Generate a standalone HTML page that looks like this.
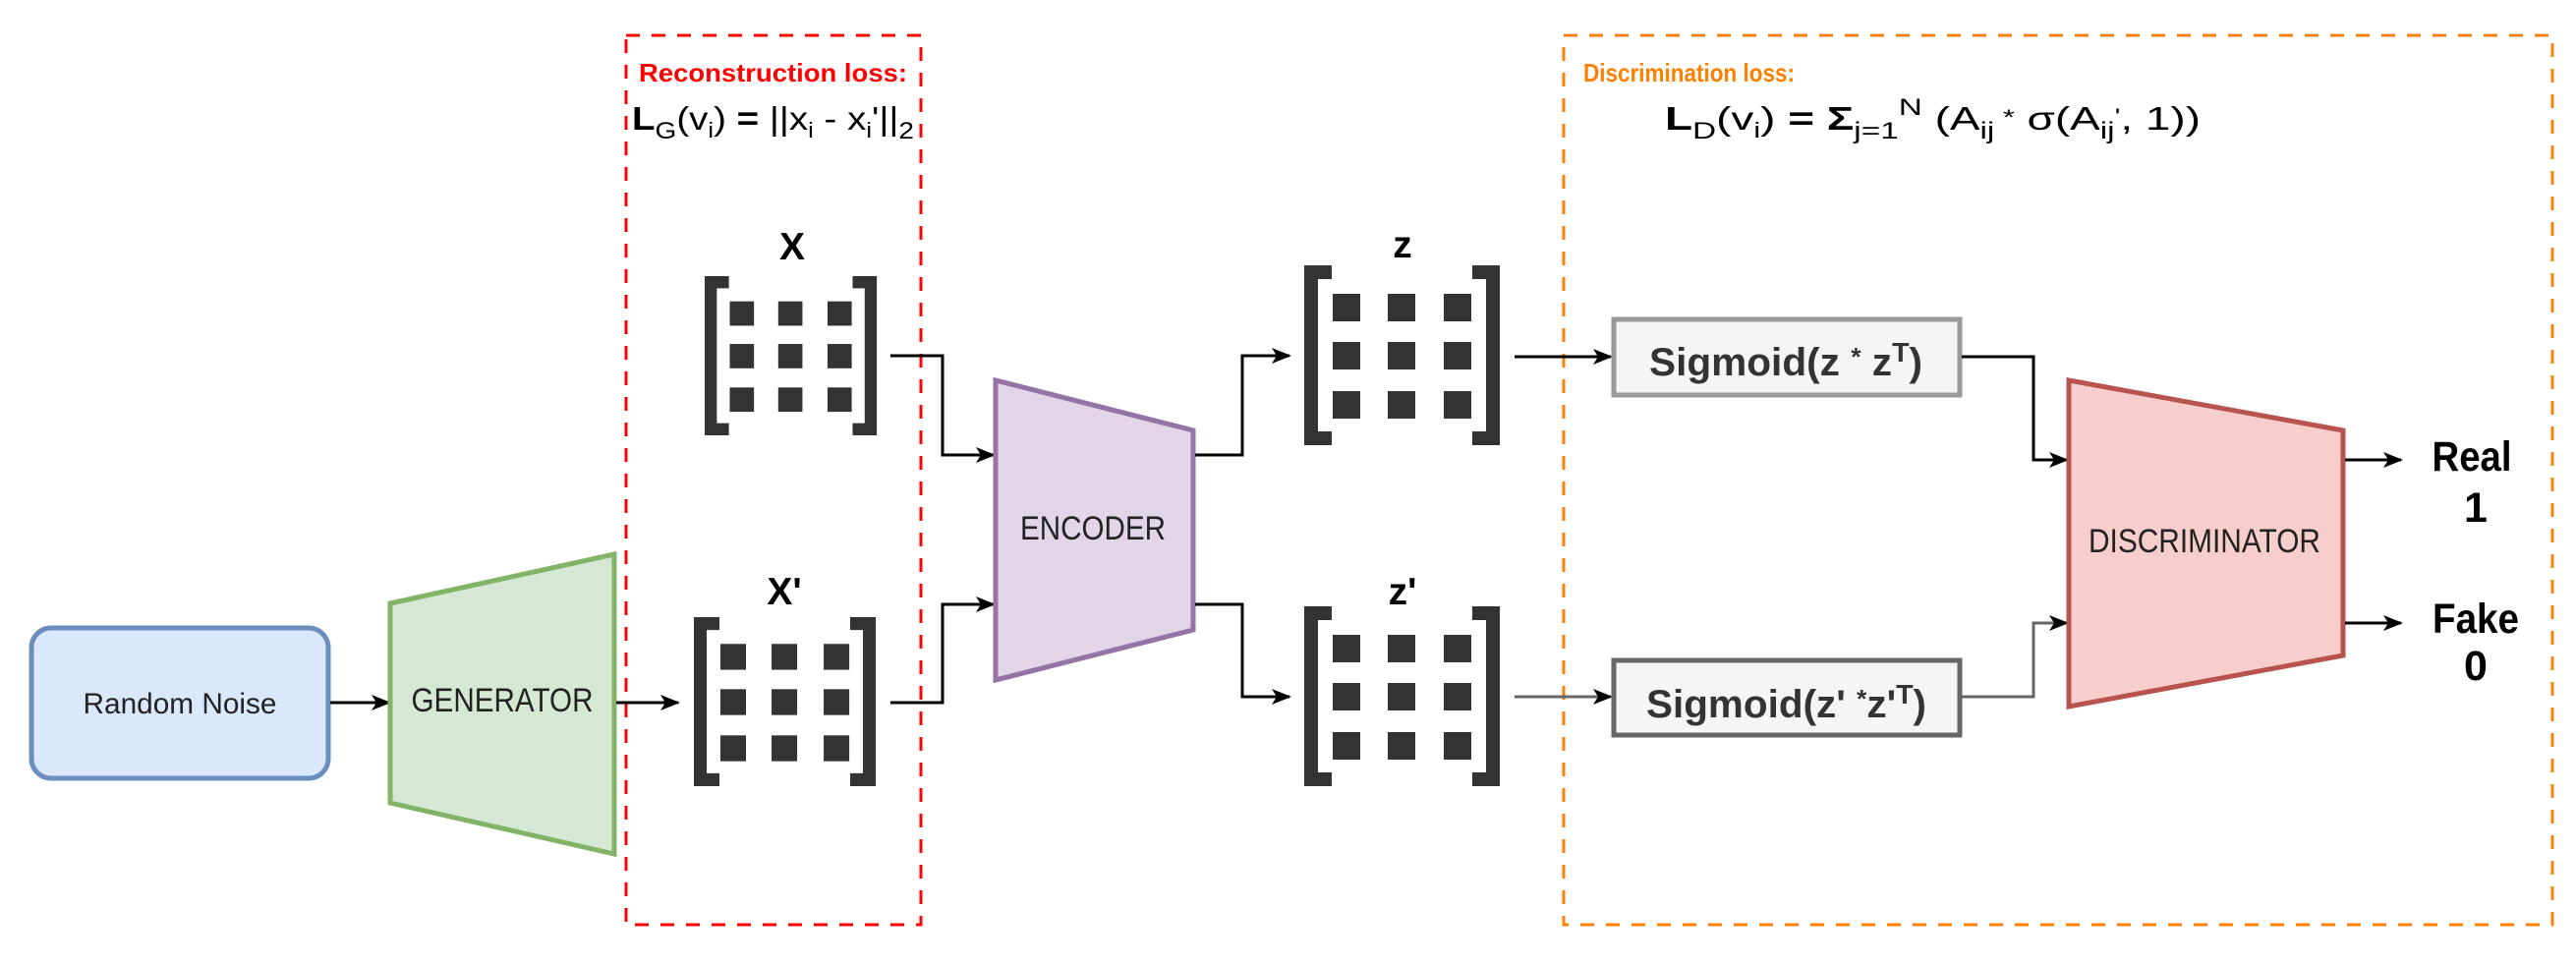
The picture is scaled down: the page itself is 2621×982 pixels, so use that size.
<!DOCTYPE html>
<html><head><meta charset="utf-8"><style>
html,body{margin:0;padding:0;background:#fff}
svg{display:block}
text{font-family:"Liberation Sans",Arial,sans-serif}
</style></head><body>
<svg width="2621" height="982" viewBox="0 0 2621 982" xmlns="http://www.w3.org/2000/svg">
<defs>
<marker id="ah" markerWidth="10" markerHeight="10" refX="9" refY="5" orient="auto" markerUnits="userSpaceOnUse" viewBox="0 0 10 10">
<path d="M0,0 L10,5 L0,10 L3,5 z" fill="#000"/></marker>
<marker id="ahb" markerWidth="20" markerHeight="20" refX="18" refY="10" orient="auto" markerUnits="userSpaceOnUse" viewBox="0 0 20 20">
<path d="M0,2 L20,10 L0,18 L5,10 z" fill="#000"/></marker>
<g id="mat">
<path d="M28,0 H0 V183 H28 V169 H14 V14 H28 Z" fill="#333"/>
<path d="M171,0 H199 V183 H171 V169 H185 V14 H171 Z" fill="#333"/>
<rect x="29" y="29" width="28" height="28" fill="#333"/><rect x="85" y="29" width="28" height="28" fill="#333"/><rect x="142" y="29" width="28" height="28" fill="#333"/>
<rect x="29" y="78" width="28" height="28" fill="#333"/><rect x="85" y="78" width="28" height="28" fill="#333"/><rect x="142" y="78" width="28" height="28" fill="#333"/>
<rect x="29" y="128" width="28" height="28" fill="#333"/><rect x="85" y="128" width="28" height="28" fill="#333"/><rect x="142" y="128" width="28" height="28" fill="#333"/>
</g>
</defs>

<!-- dashed boxes -->
<rect x="637" y="36" width="300" height="905" fill="none" stroke="#ff0000" stroke-width="3" stroke-dasharray="14,12"/>
<rect x="1591" y="36" width="1006" height="905" fill="none" stroke="#ff8000" stroke-width="3" stroke-dasharray="14,12"/>

<text x="650" y="83" font-size="26" font-weight="bold" fill="#ff0000" textLength="273" lengthAdjust="spacingAndGlyphs">Reconstruction loss:</text>
<text x="1611" y="83" font-size="26" font-weight="bold" fill="#ff8000" textLength="215" lengthAdjust="spacingAndGlyphs">Discrimination loss:</text>

<text x="643" y="132" font-size="33" fill="#000" textLength="287" lengthAdjust="spacingAndGlyphs"><tspan font-weight="bold">L</tspan><tspan font-size="24" dy="9">G</tspan><tspan dy="-9">(v</tspan><tspan font-size="22" dy="8">i</tspan><tspan dy="-8">) </tspan><tspan font-weight="bold">=</tspan><tspan> ||x</tspan><tspan font-size="22" dy="8">i</tspan><tspan dy="-8"> - x</tspan><tspan font-size="22" dy="8">i</tspan><tspan dy="-8">'||</tspan><tspan font-size="24" dy="9">2</tspan></text>

<text x="1694" y="132" font-size="33" fill="#000" textLength="545" lengthAdjust="spacingAndGlyphs"><tspan font-weight="bold">L</tspan><tspan font-size="24" dy="9">D</tspan><tspan dy="-9">(v</tspan><tspan font-size="22" dy="8">i</tspan><tspan dy="-8">) </tspan><tspan font-weight="bold">=  Σ</tspan><tspan font-size="24" dy="9">j=1</tspan><tspan font-size="24" dy="-24">N</tspan><tspan dy="15">  (A</tspan><tspan font-size="24" dy="9">ij</tspan><tspan font-size="22" dy="-14"> *</tspan><tspan dy="5"> σ(A</tspan><tspan font-size="24" dy="9">ij</tspan><tspan font-size="22" dy="-15">'</tspan><tspan dy="6">, 1))</tspan></text>

<!-- random noise -->
<rect x="32" y="639" width="302" height="153" rx="20" fill="#dae8fc" stroke="#6c8ebf" stroke-width="5"/>
<text x="183" y="726" font-size="30" text-anchor="middle" fill="#222" textLength="197" lengthAdjust="spacingAndGlyphs">Random Noise</text>
<line x1="336" y1="715" x2="396" y2="715" stroke="#000" stroke-width="3" marker-end="url(#ahb)"/>

<!-- generator -->
<polygon points="397,614 625,564 625,869 397,817" fill="#d5e8d4" stroke="#82b366" stroke-width="5"/>
<text x="511" y="724" font-size="34" text-anchor="middle" fill="#222" textLength="185" lengthAdjust="spacingAndGlyphs">GENERATOR</text>
<line x1="627" y1="715" x2="690" y2="715" stroke="#000" stroke-width="3" marker-end="url(#ahb)"/>

<!-- X matrices -->
<text x="806" y="264" font-size="39" font-weight="bold" text-anchor="middle">X</text>
<use href="#mat" transform="translate(717,281) scale(0.88,0.885)"/>
<text x="798" y="615" font-size="39" font-weight="bold" text-anchor="middle">X'</text>
<use href="#mat" transform="translate(706,628) scale(0.93,0.94)"/>

<!-- encoder -->
<polyline points="906,362 959,362 959,463 1011,463" fill="none" stroke="#000" stroke-width="3" marker-end="url(#ahb)"/>
<polyline points="906,715 959,715 959,615 1011,615" fill="none" stroke="#000" stroke-width="3" marker-end="url(#ahb)"/>
<polygon points="1013,387 1214,438 1214,641 1013,692" fill="#e1d5e7" stroke="#9673a6" stroke-width="5"/>
<text x="1112" y="549" font-size="34" text-anchor="middle" fill="#222" textLength="148" lengthAdjust="spacingAndGlyphs">ENCODER</text>
<polyline points="1216,463 1264,463 1264,362 1312,362" fill="none" stroke="#000" stroke-width="3" marker-end="url(#ahb)"/>
<polyline points="1216,615 1264,615 1264,709 1312,709" fill="none" stroke="#000" stroke-width="3" marker-end="url(#ahb)"/>

<!-- z matrices -->
<text x="1427" y="262" font-size="39" font-weight="bold" text-anchor="middle">z</text>
<use href="#mat" transform="translate(1327,270)"/>
<text x="1427" y="615" font-size="39" font-weight="bold" text-anchor="middle">z'</text>
<use href="#mat" transform="translate(1327,617)"/>

<!-- sigmoid -->
<line x1="1541" y1="363" x2="1639" y2="363" stroke="#000" stroke-width="3" marker-end="url(#ahb)"/>
<line x1="1541" y1="709" x2="1639" y2="709" stroke="#666" stroke-width="3" marker-end="url(#ahb)"/>
<rect x="1642" y="325" width="352" height="77" fill="#f5f5f5" stroke="#999" stroke-width="5"/>
<text x="1678" y="382" font-size="40" font-weight="bold" fill="#333" textLength="278" lengthAdjust="spacingAndGlyphs">Sigmoid(z <tspan font-size="26" dy="-10">*</tspan><tspan dy="10"> z</tspan><tspan font-size="28" dy="-14">T</tspan><tspan dy="14">)</tspan></text>
<rect x="1642" y="672" width="352" height="76" fill="#f5f5f5" stroke="#666" stroke-width="5"/>
<text x="1675" y="730" font-size="40" font-weight="bold" fill="#333" textLength="285" lengthAdjust="spacingAndGlyphs">Sigmoid(z' <tspan font-size="26" dy="-10">*</tspan><tspan dy="10">z'</tspan><tspan font-size="28" dy="-14">T</tspan><tspan dy="14">)</tspan></text>

<polyline points="1996,363 2069,363 2069,468 2103,468" fill="none" stroke="#000" stroke-width="3" marker-end="url(#ahb)"/>
<polyline points="1996,709 2069,709 2069,634 2103,634" fill="none" stroke="#666" stroke-width="3" marker-end="url(#ahb)"/>

<!-- discriminator -->
<polygon points="2105,387 2384,438 2384,667 2105,719" fill="#f8cecc" stroke="#b85450" stroke-width="5"/>
<text x="2243" y="562" font-size="34" text-anchor="middle" fill="#222" textLength="236" lengthAdjust="spacingAndGlyphs">DISCRIMINATOR</text>
<line x1="2386" y1="468" x2="2443" y2="468" stroke="#000" stroke-width="3" marker-end="url(#ahb)"/>
<line x1="2386" y1="634" x2="2443" y2="634" stroke="#000" stroke-width="3" marker-end="url(#ahb)"/>

<text x="2515" y="479" font-size="43" font-weight="bold" text-anchor="middle" textLength="81" lengthAdjust="spacingAndGlyphs">Real</text>
<text x="2519" y="531" font-size="43" font-weight="bold" text-anchor="middle">1</text>
<text x="2519" y="644" font-size="43" font-weight="bold" text-anchor="middle" textLength="88" lengthAdjust="spacingAndGlyphs">Fake</text>
<text x="2519" y="692" font-size="43" font-weight="bold" text-anchor="middle">0</text>
</svg>
</body></html>
